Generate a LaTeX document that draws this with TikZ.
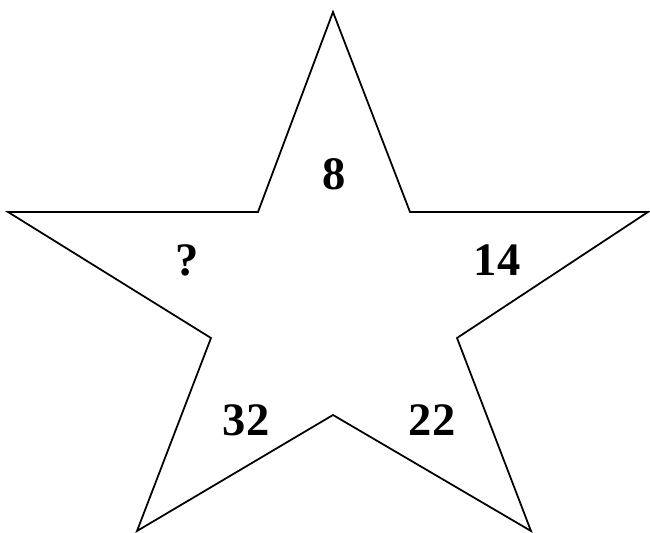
\documentclass[tikz,border=0pt]{standalone}
\usepackage{fontspec}
\setmainfont{Liberation Serif}
\usetikzlibrary{arrows.meta}

\begin{document}
\begin{tikzpicture}[x=0.02cm,y=-0.02cm,line cap=round,line join=miter,
  num/.style={inner sep=0pt,font=\fontsize{26.5}{30}\selectfont\bfseries}]
\useasboundingbox (0,0) rectangle (650,533);
\coordinate (top) at (333,12);
\coordinate (ur) at (410,212);
\coordinate (right) at (648,212);
\coordinate (r) at (457,338);
\coordinate (br) at (531,531);
\coordinate (bot) at (333,415);
\coordinate (bl) at (137,531);
\coordinate (l) at (211,338);
\coordinate (left) at (8,212);
\coordinate (ul) at (258,212);
\draw[line width=1pt] (top) -- (ur) -- (right) -- (r) -- (br) -- (bot) -- (bl) -- (l) -- (left) -- (ul) -- cycle;
\node[num] (n8) at (334,174) {8};
\node[num] (n14) at (497,260) {14};
\node[num] (nq) at (187,260) {?};
\node[num] (n32) at (246,420) {32};
\node[num] (n22) at (432,420) {22};
\end{tikzpicture}
\end{document}
